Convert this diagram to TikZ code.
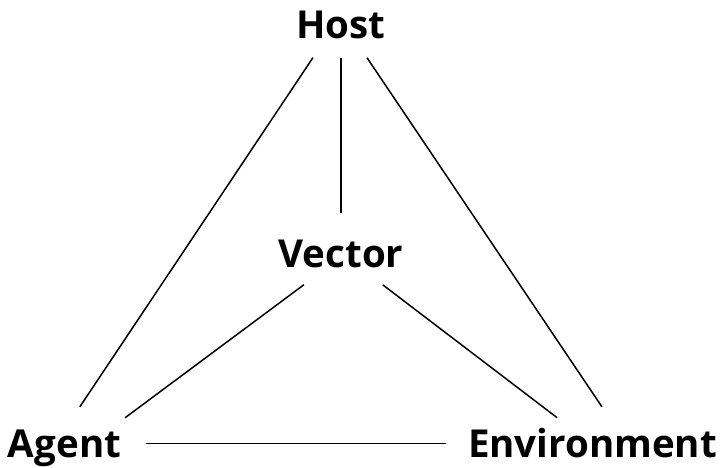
\documentclass[tikz,border=0pt]{standalone}
\usepackage{fontspec}
\setmainfont{Open Sans}
\usetikzlibrary{positioning}
\tikzstyle{term} = [inner sep=0pt, text height=27pt, text depth=0pt, align=center]
\tikzstyle{link} = [draw, line width=1.5pt]

\begin{document}
\begin{tikzpicture}[auto, node distance=2cm]
    \tikzset{font={\fontsize{38.5pt}{41pt}\selectfont\bfseries}}
    \useasboundingbox (0,0) rectangle (721pt,467pt);
    \node [term] (host) at (341pt,442pt) {Host};
    \node [term, below of=host, node distance=229pt] (vector) {Vector};
    \node [term] (agent) at (64.5pt,23.5pt) {Agent};
    \node [term, right of=agent, node distance=528pt] (env) {Environment};

    \draw [link, shorten <=22.8pt, shorten >=27.6pt] ([xshift=-15.4pt]host.south) -- (agent.north);
    \draw [link, shorten <=19pt, shorten >=27pt] (host.south) -- (vector.north);
    \draw [link, shorten <=22.9pt, shorten >=27.7pt] ([xshift=13.2pt]host.south) -- ([xshift=24.9pt]env.north);
    \draw [link, shorten <=28.4pt, shorten >=20.1pt] ([xshift=-14.2pt]vector.south) -- ([xshift=44.4pt]agent.north);
    \draw [link, shorten <=28.3pt, shorten >=20pt] ([xshift=19.3pt]vector.south) -- ([xshift=-19.5pt]env.north);
    \draw [link, shorten <=25pt, shorten >=22pt] (agent.east) -- (env.west);
\end{tikzpicture}
\end{document}
